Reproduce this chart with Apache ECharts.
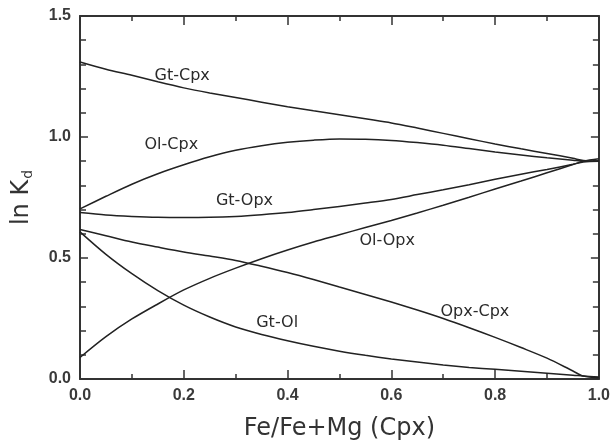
<!DOCTYPE html>
<html>
<head>
<meta charset="utf-8">
<script src="https://cdn.jsdelivr.net/npm/echarts@6/dist/echarts.min.js"></script>
<style>
html,body{margin:0;padding:0;background:#fff;}
#chart{width:613px;height:446px;}
</style>
</head>
<body>
<div id="chart"></div>
<script>
// x values: Fe/(Fe+Mg) in Cpx
const xs      = [0, 0.05, 0.1, 0.15, 0.2, 0.25, 0.3, 0.35, 0.4, 0.45, 0.5, 0.55, 0.6, 0.65, 0.7, 0.75, 0.8, 0.85, 0.9, 0.95, 0.97, 1.0];
// ln Kd values
const gtCpx   = [1.310, 1.280, 1.255, 1.228, 1.203, 1.182, 1.163, 1.144, 1.125, 1.108, 1.092, 1.075, 1.058, 1.037, 1.015, 0.993, 0.971, 0.951, 0.932, 0.912, 0.903, 0.900];
const olCpx   = [0.703, 0.755, 0.805, 0.848, 0.885, 0.918, 0.945, 0.964, 0.978, 0.987, 0.992, 0.991, 0.986, 0.977, 0.966, 0.952, 0.938, 0.926, 0.914, 0.904, 0.900, 0.900];
const gtOpx   = [0.688, 0.678, 0.672, 0.668, 0.667, 0.668, 0.672, 0.679, 0.688, 0.700, 0.713, 0.727, 0.742, 0.762, 0.782, 0.803, 0.825, 0.846, 0.866, 0.887, 0.897, 0.900];
const olOpx   = [0.089, 0.175, 0.248, 0.310, 0.368, 0.416, 0.458, 0.497, 0.533, 0.566, 0.596, 0.626, 0.655, 0.686, 0.718, 0.751, 0.785, 0.818, 0.852, 0.886, 0.900, 0.910];
const opxCpx  = [0.618, 0.592, 0.566, 0.545, 0.525, 0.508, 0.490, 0.466, 0.440, 0.411, 0.380, 0.349, 0.318, 0.285, 0.250, 0.212, 0.172, 0.130, 0.086, 0.033, 0.012, 0.005];
const gtOl    = [0.608, 0.515, 0.435, 0.365, 0.305, 0.256, 0.215, 0.184, 0.158, 0.135, 0.115, 0.098, 0.083, 0.070, 0.058, 0.048, 0.040, 0.032, 0.024, 0.016, 0.012, 0.008];

const seriesNames = ['Gt-Cpx', 'Ol-Cpx', 'Gt-Opx', 'Ol-Opx', 'Opx-Cpx', 'Gt-Ol'];
const seriesValues = [gtCpx, olCpx, gtOpx, olOpx, opxCpx, gtOl];

const xTickLabels = ['0.0', '0.2', '0.4', '0.6', '0.8', '1.0'];
const yTickLabels = ['0.0', '0.5', '1.0', '1.5'];

// label anchor points (data coordinates) for the curve names
const labelAt = {
  'Gt-Cpx':  [0.197, 1.252],
  'Ol-Cpx':  [0.176, 0.966],
  'Gt-Opx':  [0.317, 0.738],
  'Ol-Opx':  [0.592, 0.569],
  'Opx-Cpx': [0.761, 0.277],
  'Gt-Ol':   [0.380, 0.232]
};

const axisColor = '#333';
const textColor = '#333';
const tickFont = {fontFamily: 'Liberation Sans, Arial, sans-serif', fontSize: 16, fontWeight: 'bold', color: '#3a3a3a'};

function xAxisCfg(pos, showLabel) {
  return {
    type: 'value', position: pos, min: 0, max: 1, interval: 0.2,
    axisLine: {show: true, onZero: false, lineStyle: {color: axisColor, width: 2}},
    axisTick: {show: true, inside: true, length: 9, lineStyle: {color: axisColor, width: 1.5}},
    minorTick: {show: true, splitNumber: 2, length: 5, lineStyle: {color: axisColor, width: 1.5}},
    splitLine: {show: false}, minorSplitLine: {show: false},
    axisLabel: Object.assign({show: showLabel, margin: 9,
      formatter: v => xTickLabels[Math.round(v / 0.2)]}, tickFont)
  };
}
function yAxisCfg(pos, showLabel) {
  return {
    type: 'value', position: pos, min: 0, max: 1.5, interval: 0.5,
    axisLine: {show: true, onZero: false, lineStyle: {color: axisColor, width: 2}},
    axisTick: {show: true, inside: true, length: 8, lineStyle: {color: axisColor, width: 1.5}},
    minorTick: {show: true, splitNumber: 5, length: 6, lineStyle: {color: axisColor, width: 1.5}},
    splitLine: {show: false}, minorSplitLine: {show: false},
    axisLabel: Object.assign({show: showLabel, margin: 9,
      formatter: v => yTickLabels[Math.round(v / 0.5)]}, tickFont)
  };
}

const xMain = xAxisCfg('bottom', true);
xMain.name = 'Fe/Fe+Mg (Cpx)';
xMain.nameLocation = 'middle';
xMain.nameGap = 38;
xMain.nameTextStyle = {fontFamily: 'DejaVu Sans, sans-serif', fontSize: 24, color: textColor};

const yMain = yAxisCfg('left', true);
yMain.name = '{a|ln K}{b|d}';
yMain.nameLocation = 'middle';
yMain.nameRotate = 90;
yMain.nameGap = 45;
yMain.nameTextStyle = {
  rich: {
    a: {fontFamily: 'DejaVu Sans, sans-serif', fontSize: 24, color: textColor},
    b: {fontFamily: 'DejaVu Sans, sans-serif', fontSize: 14, color: textColor, padding: [12, 0, 0, 1]}
  }
};

const series = seriesNames.map((name, i) => ({
  name: name,
  type: 'line',
  xAxisIndex: 0, yAxisIndex: 0,
  data: xs.map((x, j) => [x, seriesValues[i][j]]),
  smooth: 0.3,
  showSymbol: false,
  lineStyle: {color: '#222', width: 1.5},
  markPoint: {
    symbol: 'circle', symbolSize: 1,
    itemStyle: {color: 'rgba(0,0,0,0)'},
    label: {show: true, position: 'inside', formatter: name,
      fontFamily: 'DejaVu Sans, sans-serif', fontSize: 16, color: '#2a2a2a'},
    data: [{coord: labelAt[name]}]
  }
}));

const chart = echarts.init(document.getElementById('chart'), null, {renderer: 'canvas'});
chart.setOption({
  animation: false,
  backgroundColor: '#fff',
  grid: {left: 80, right: 12, top: 16, bottom: 65, containLabel: false},
  xAxis: [xMain, xAxisCfg('top', false)],
  yAxis: [yMain, yAxisCfg('right', false)],
  series: series
});
</script>
</body>
</html>
